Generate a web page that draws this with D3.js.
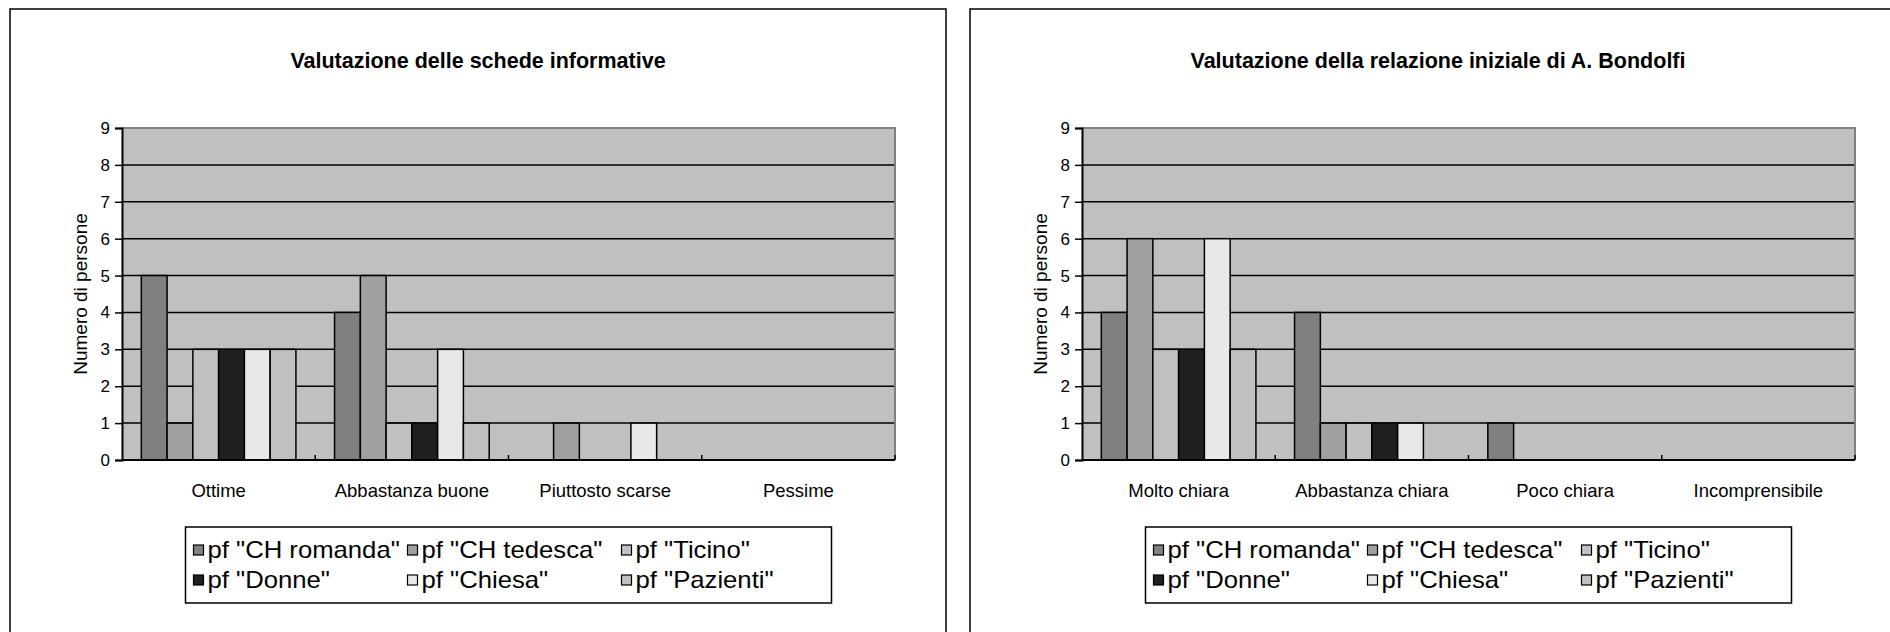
<!DOCTYPE html>
<html>
<head>
<meta charset="utf-8">
<script src="https://cdn.jsdelivr.net/npm/d3@7/dist/d3.min.js"></script>
<style>
  html, body { margin: 0; padding: 0; background: #ffffff; }
  svg { display: block; }
  text { font-family: "Liberation Sans", Arial, sans-serif; fill: #000; }
</style>
</head>
<body>
<svg id="chart" width="1890" height="632"></svg>
<script>
// Series shared by both charts
const seriesNames = ['pf "CH romanda"', 'pf "CH tedesca"', 'pf "Ticino"', 'pf "Donne"', 'pf "Chiesa"', 'pf "Pazienti"'];
const seriesColors = ["#808080", "#a0a0a0", "#c0c0c0", "#202020", "#e8e8e8", "#c0c0c0"];

// Chart 1: information sheets
const schedeTitle = "Valutazione delle schede informative";
const schedeCategories = ["Ottime", "Abbastanza buone", "Piuttosto scarse", "Pessime"];
const schedeChRomanda = [5, 4, 0, 0];
const schedeChTedesca = [1, 5, 1, 0];
const schedeTicino    = [3, 1, 0, 0];
const schedeDonne     = [3, 1, 0, 0];
const schedeChiesa    = [3, 3, 1, 0];
const schedePazienti  = [3, 1, 0, 0];

// Chart 2: opening talk
const relazioneTitle = "Valutazione della relazione iniziale di A. Bondolfi";
const relazioneCategories = ["Molto chiara", "Abbastanza chiara", "Poco chiara", "Incomprensibile"];
const relazioneChRomanda = [4, 4, 1, 0];
const relazioneChTedesca = [6, 1, 0, 0];
const relazioneTicino    = [3, 1, 0, 0];
const relazioneDonne     = [3, 1, 0, 0];
const relazioneChiesa    = [6, 1, 0, 0];
const relazionePazienti  = [3, 0, 0, 0];

const yTicks = [0, 1, 2, 3, 4, 5, 6, 7, 8, 9];
const yLabel = "Numero di persone";

const svg = d3.select("#chart");

function drawPanel(left, title, categories, seriesValues) {
  const panelW = 936;
  const g = svg.append("g").attr("transform", `translate(${left},0)`);

  // outer frame
  g.append("rect")
    .attr("x", 0).attr("y", 9).attr("width", panelW).attr("height", 700)
    .attr("fill", "#fff").attr("stroke", "#000").attr("stroke-width", 1.5);

  const plotL = 112, plotR = 885, plotT = 128, plotB = 460;

  g.append("text")
    .attr("x", panelW / 2).attr("y", 68)
    .attr("text-anchor", "middle")
    .style("font-weight", "bold").style("font-size", "21.5px")
    .text(title);

  const y = d3.scaleLinear().domain([0, 9]).range([plotB, plotT]);
  const x0 = d3.scaleBand().domain(categories).range([plotL, plotR]).padding(0);
  const x1 = d3.scaleBand().domain(seriesNames).range([0, x0.bandwidth()])
    .paddingInner(0).paddingOuter(0.75);

  // plot background
  g.append("rect")
    .attr("x", plotL).attr("y", plotT)
    .attr("width", plotR - plotL).attr("height", plotB - plotT)
    .attr("fill", "#c0c0c0");

  // horizontal gridlines
  g.append("g").selectAll("line")
    .data(yTicks.filter(d => d > 0 && d < 9))
    .join("line")
    .attr("x1", plotL).attr("x2", plotR)
    .attr("y1", d => y(d)).attr("y2", d => y(d))
    .attr("stroke", "#000").attr("stroke-width", 1.5);

  // top and right plot edges
  g.append("path")
    .attr("d", `M${plotL},${plotT}H${plotR}V${plotB}`)
    .attr("fill", "none").attr("stroke", "#808080").attr("stroke-width", 2);

  // bars
  const rows = [];
  categories.forEach((c, ci) => {
    seriesNames.forEach((s, si) => {
      rows.push({ cat: c, series: s, si: si, value: seriesValues[si][ci] });
    });
  });
  g.append("g").selectAll("rect")
    .data(rows.filter(d => d.value > 0))
    .join("rect")
    .attr("x", d => x0(d.cat) + x1(d.series))
    .attr("y", d => y(d.value))
    .attr("width", x1.bandwidth())
    .attr("height", d => y(0) - y(d.value))
    .attr("fill", d => seriesColors[d.si])
    .attr("stroke", "#000").attr("stroke-width", 1.5);

  // y axis
  const yAxis = d3.axisLeft(y).tickValues(yTicks).tickSize(7).tickPadding(5).tickFormat(d3.format("d"));
  const ya = g.append("g").attr("transform", `translate(${plotL},0)`).call(yAxis);
  ya.select(".domain").attr("stroke", "#000").attr("stroke-width", 2);
  ya.selectAll(".tick line").attr("stroke", "#000").attr("stroke-width", 1.5);
  ya.selectAll(".tick text")
    .style("font-family", '"Liberation Sans", Arial, sans-serif')
    .style("font-size", "17px").attr("fill", "#000");

  // x axis baseline with inner category ticks
  const bounds = categories.map((c, i) => x0(c) + x0.bandwidth());
  g.append("line")
    .attr("x1", plotL).attr("x2", plotR)
    .attr("y1", plotB).attr("y2", plotB)
    .attr("stroke", "#000").attr("stroke-width", 2);
  g.append("g").selectAll("line")
    .data(bounds)
    .join("line")
    .attr("x1", d => d).attr("x2", d => d)
    .attr("y1", plotB).attr("y2", plotB - 5)
    .attr("stroke", "#000").attr("stroke-width", 1.5);

  // category labels
  g.append("g").selectAll("text")
    .data(categories)
    .join("text")
    .attr("x", d => x0(d) + x0.bandwidth() / 2)
    .attr("y", 497)
    .attr("text-anchor", "middle")
    .style("font-size", "18.5px")
    .text(d => d);

  // y axis title
  g.append("text")
    .attr("transform", `translate(70,${(plotT + plotB) / 2}) rotate(-90)`)
    .attr("text-anchor", "middle")
    .attr("dy", "0.35em")
    .style("font-size", "19px")
    .text(yLabel);

  // legend
  const legW = 646, legH = 76;
  const legX = (plotL + plotR) / 2 - legW / 2, legY = 527;
  const lg = g.append("g").attr("transform", `translate(${legX},${legY})`);
  lg.append("rect")
    .attr("width", legW).attr("height", legH)
    .attr("fill", "#fff").attr("stroke", "#000").attr("stroke-width", 1.5);
  const colX = [8, 222, 436];
  const rowY = [23, 53];
  const items = lg.selectAll("g.item")
    .data(seriesNames)
    .join("g")
    .attr("class", "item")
    .attr("transform", (d, i) => `translate(${colX[i % 3]},${rowY[Math.floor(i / 3)]})`);
  items.append("rect")
    .attr("x", 0).attr("y", -5).attr("width", 10).attr("height", 10)
    .attr("fill", (d, i) => seriesColors[i])
    .attr("stroke", "#000").attr("stroke-width", 1.2);
  items.append("text")
    .attr("transform", "translate(14,0) scale(1.07,1)")
    .attr("dy", "0.35em")
    .style("font-size", "24px")
    .text(d => d);
}

drawPanel(10, schedeTitle, schedeCategories,
  [schedeChRomanda, schedeChTedesca, schedeTicino, schedeDonne, schedeChiesa, schedePazienti]);
drawPanel(970, relazioneTitle, relazioneCategories,
  [relazioneChRomanda, relazioneChTedesca, relazioneTicino, relazioneDonne, relazioneChiesa, relazionePazienti]);
</script>
</body>
</html>
